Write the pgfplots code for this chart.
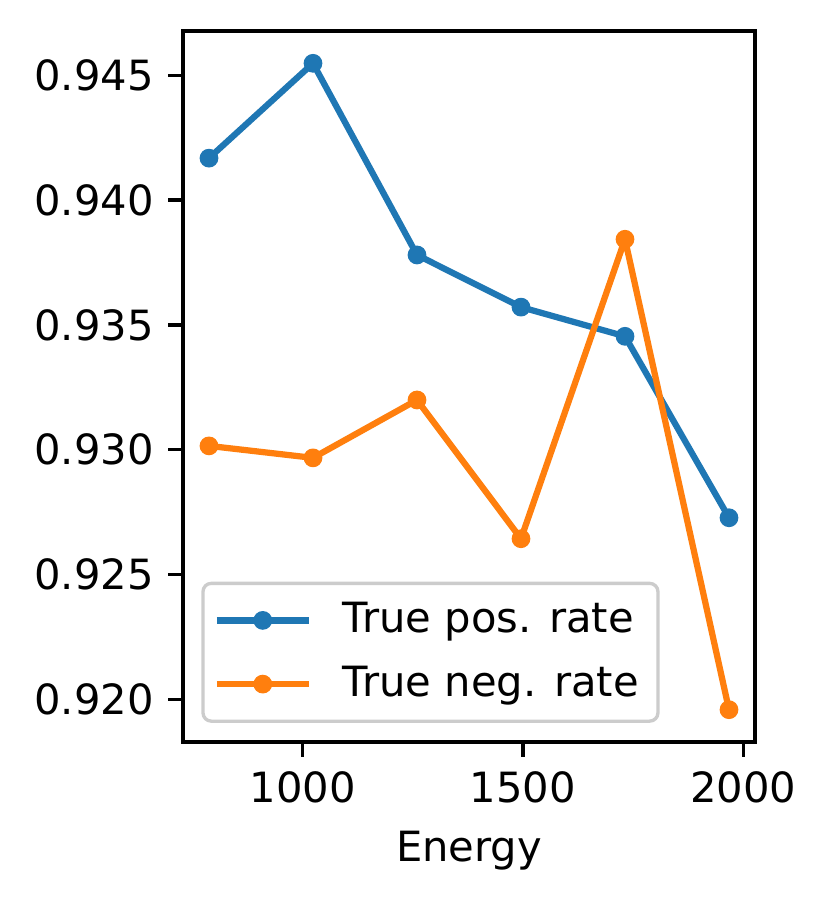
\documentclass[border=0pt]{standalone}
\usepackage{fontspec}
\setmainfont{DejaVu Sans}
\usepackage{pgfplots}
\pgfplotsset{compat=1.18}
\definecolor{C0}{HTML}{1F77B4}
\definecolor{C1}{HTML}{FF7F0E}
\begin{document}
\begin{tikzpicture}
\useasboundingbox (-43.92pt,-38.64pt) rectangle (155.28pt,178.08pt);
\begin{axis}[
  at={(0pt,0pt)}, anchor=south west,
  scale only axis,
  width=137.28pt, height=170.64pt,
  xmin=728.5, xmax=2026.5,
  ymin=0.918285, ymax=0.946775,
  xtick={1000,1500,2000},
  ytick={0.920,0.925,0.930,0.935,0.940,0.945},
  yticklabel style={/pgf/number format/.cd,fixed,fixed zerofill,precision=3},
  xticklabel style={/pgf/number format/.cd,fixed,1000 sep={}},
  /pgf/number format/assume math mode=true,
  scaled y ticks=false,
  tick align=outside,
  major tick length=3.5pt,
  every tick/.style={black, line width=0.8pt},
  axis line style={line width=0.8pt},
  xtick pos=bottom, ytick pos=left,
  tick label style={font=\fontsize{10pt}{12pt}\selectfont},
  label style={font=\fontsize{10pt}{12pt}\selectfont},
  xlabel={Energy},
  legend style={at={(0,0)}, anchor=south west, xshift=4.4pt, yshift=4.6pt,
    draw=black!20, line width=0.8pt, rounded corners=2pt,
    font=\fontsize{10pt}{12pt}\selectfont,
    inner xsep=2.6pt, inner ysep=2.5pt, row sep=2.5pt, column sep=5.5pt},
  legend cell align=left,
  legend image code/.code={\draw[mark repeat=2,mark phase=2] plot coordinates {(0pt,0pt) (11pt,0pt) (22pt,0pt)};},
]
\addplot[C0, line width=1.5pt, line join=round, mark=*, mark size=2.1pt, mark options={solid, fill=C0, draw=C0, line width=0.3pt}] coordinates {
(787.5,0.94168) (1023.5,0.94548) (1259.5,0.93780) (1495.5,0.93571) (1731.5,0.93454) (1967.5,0.92727)};
\addlegendentry{True pos. rate}
\addplot[C1, line width=1.5pt, line join=round, mark=*, mark size=2.1pt, mark options={solid, fill=C1, draw=C1, line width=0.3pt}] coordinates {
(787.5,0.93015) (1023.5,0.92967) (1259.5,0.93199) (1495.5,0.92643) (1731.5,0.93843) (1967.5,0.91958)};
\addlegendentry{True neg. rate}
\end{axis}
\end{tikzpicture}
\end{document}
